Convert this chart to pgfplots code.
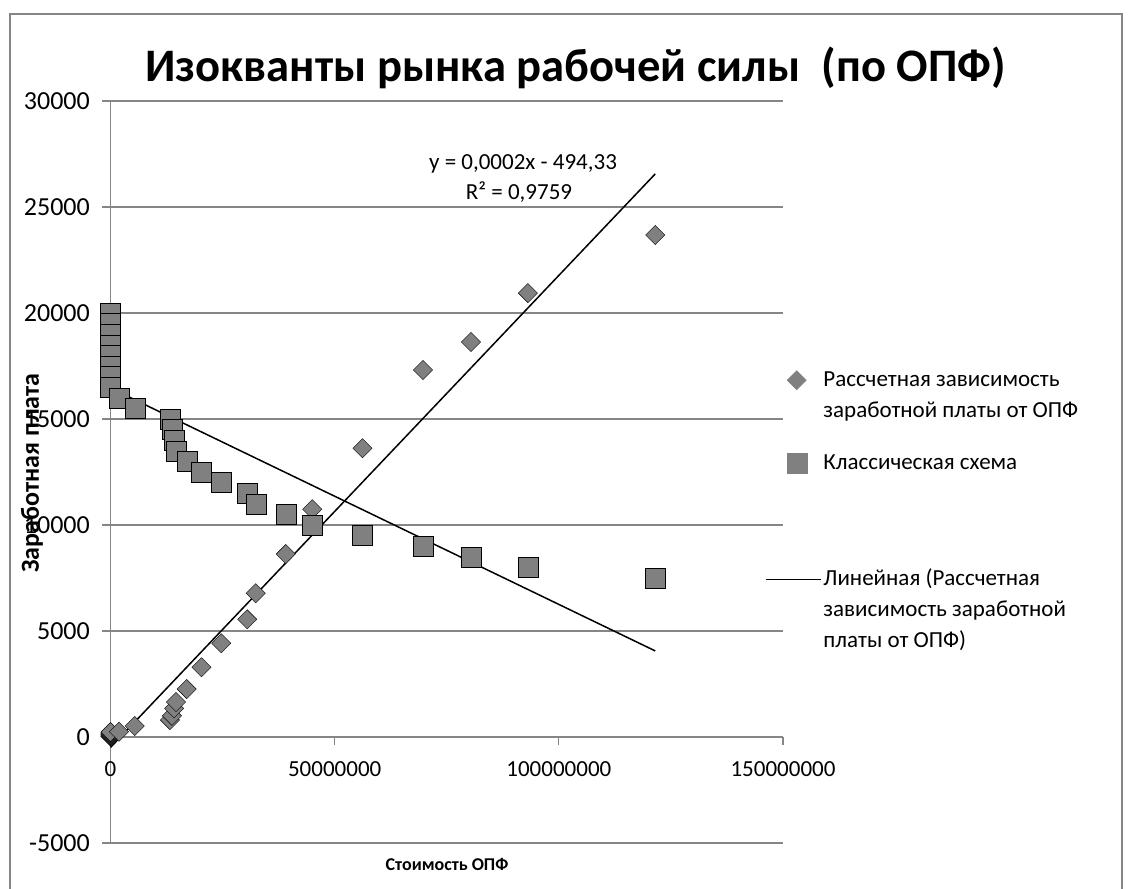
\documentclass[border=0pt]{standalone}
\usepackage{pgfplots}
\pgfplotsset{compat=1.18}
\usepackage{fontspec}
\setmainfont{Carlito}
\definecolor{mk}{RGB}{128,128,128}
\definecolor{gr}{RGB}{134,134,134}
\pgfplotstableread{
x y
0 20
0 40
0 60
0 90
0 120
0 150
0 190
0 230
1900000 250
5400000 520
13250000 800
13700000 1000
14200000 1350
14600000 1650
17000000 2260
20300000 3290
24700000 4420
30500000 5550
32400000 6780
39100000 8630
45000000 10740
56200000 13620
69700000 17310
80400000 18630
93100000 20940
121500000 23680
}\calc
\pgfplotstableread{
x y
0 20000
0 19500
0 19000
0 18500
0 18000
0 17500
0 17000
0 16500
1900000 16000
5400000 15500
13250000 15000
13700000 14500
14200000 14000
14600000 13500
17000000 13000
20300000 12500
24700000 12000
30500000 11500
32400000 11000
39100000 10500
45000000 10000
56200000 9500
69700000 9000
80400000 8500
93100000 8000
121500000 7500
}\classic
\begin{document}
\begin{tikzpicture}[x=1pt,y=1pt]
\useasboundingbox (0,0) rectangle (1133,889);
\draw[gr, line width=1.5pt] (10,-10) -- (10,875) -- (1122,875) -- (1122,-10);
\node[font=\fontsize{46.6}{50}\selectfont\bfseries, anchor=base] at (575.5,807) {Изокванты рынка рабочей силы\ \ (по ОПФ)};
\begin{axis}[
  at={(110.5pt,46pt)}, anchor=south west,
  scale only axis, width=672.5pt, height=742pt,
  xmin=0, xmax=150000000, ymin=-5000, ymax=30000,
  axis x line*=middle, axis y line*=left,
  hide obscured x ticks=false, hide obscured y ticks=false,
  scaled ticks=false,
  axis line style={gr, line width=1.3pt},
  ymajorgrids, grid style={gr, line width=1.3pt},
  xtick={0,50000000,100000000,150000000},
  xticklabels={0,50000000,100000000,150000000},
  ytick={-5000,0,5000,10000,15000,20000,25000,30000},
  yticklabels={-5000,0,5000,10000,15000,20000,25000,30000},
  tick align=outside, major tick length=8pt,
  tick style={gr, line width=1.3pt},
  x tick label style={font=\fontsize{23}{28}\selectfont, anchor=base, inner sep=0pt, yshift=-31.5pt},
  y tick label style={font=\fontsize{26}{30}\selectfont, anchor=east, inner sep=0pt, xshift=-12.5pt},
  clip=false,
  legend style={at={(0.9732,0.6456)}, anchor=north west, draw=none, fill=none,
    inner sep=0pt, outer sep=0pt, row sep=0pt, column sep=2pt,
    cells={anchor=base west},
    nodes={inner sep=0pt, font=\fontsize{23}{31}\selectfont}},
]
\addplot[only marks, mark=square*, mark size=6.8pt, mark options={rotate=45, fill=mk, draw=none},
  legend image code/.code={\path (0pt,-61pt) (0pt,22pt);
    \fill[mk] (31pt,-3.6pt) -- (40.6pt,6pt) -- (31pt,15.6pt) -- (21.4pt,6pt) -- cycle;}]
  table[x=x,y=y] {\calc};
\addlegendentry{\begin{tabular}[t]{@{}l@{}}Рассчетная зависимость\\заработной платы от ОПФ\end{tabular}}
\addplot[only marks, mark=square*, mark size=10pt, mark options={fill=mk, draw=none},
  legend image code/.code={\path (0pt,-93pt) (0pt,22pt);
    \fill[mk] (21pt,-4pt) rectangle (41pt,16pt);}]
  table[x=x,y=y] {\classic};
\addlegendentry{\begin{tabular}[t]{@{}l@{}}Классическая схема\end{tabular}}
\addplot[black, line width=1.5pt,
  legend image code/.code={\path (0pt,-10pt) (0pt,22pt);
    \draw[black, line width=1.5pt] (0pt,6pt) -- (55pt,6pt);}]
  coordinates {(0,-494.33) (121500000,26560)};
\addlegendentry{\begin{tabular}[t]{@{}l@{}}Линейная (Рассчетная\\зависимость заработной\\платы от ОПФ)\end{tabular}}
\addplot[black, line width=1.5pt, forget plot] coordinates {(0,16460) (121500000,4060)};
\end{axis}
\node[font=\fontsize{23}{28}\selectfont, anchor=base] at (523,719.7) {y = 0,0002x - 494,33};
\node[font=\fontsize{23}{28}\selectfont, anchor=base] at (519,689) {R² = 0,9759};
\node[font=\fontsize{26}{30}\selectfont\bfseries, rotate=90, anchor=center] at (32,416) {Заработная плата};
\node[font=\fontsize{18}{22}\selectfont\bfseries, anchor=base] at (447,18) {Стоимость ОПФ};
\end{tikzpicture}
\end{document}
